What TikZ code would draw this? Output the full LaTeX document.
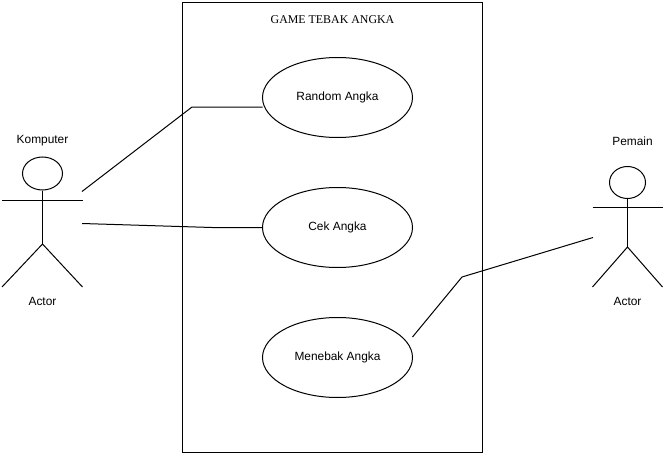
\documentclass[tikz,border=0pt]{standalone}
\usepackage{fontspec}
\setmainfont{Liberation Sans}
\newfontfamily\titlefont{Liberation Serif}
\usetikzlibrary{shapes.geometric}
\tikzset{
  usecase/.style={draw,ellipse,minimum width=150pt,minimum height=80pt,inner sep=0pt,font=\fontsize{11.9}{14}\selectfont},
  lbl/.style={inner sep=0pt,font=\fontsize{11.9}{14}\selectfont},
  titlelbl/.style={inner sep=0pt,font=\titlefont\fontsize{11.9}{14}\selectfont},
  sysbox/.style={draw,minimum width=300pt,minimum height=450pt,inner sep=0pt},
  headL/.style={draw,ellipse,minimum width=40pt,minimum height=33pt,inner sep=0pt},
  headR/.style={draw,ellipse,minimum width=36pt,minimum height=32pt,inner sep=0pt},
  stick/.style={line width=1pt},
  every path/.append style={line width=1pt}
}
\begin{document}
\begin{tikzpicture}[x=1pt,y=-1pt]
\useasboundingbox (0,0) rectangle (665,455);
\node[sysbox] (box) at (332.5,227) {};
\node[titlelbl] (title) at (332.5,19.5) {GAME TEBAK ANGKA};
\node[usecase] (random) at (337.5,97.5) {\raisebox{-0.5pt}{Random Angka}};
\node[usecase] (cek) at (337.5,227.5) {\raisebox{-0.5pt}{Cek Angka}};
\node[usecase] (tebak) at (337.5,357.5) {\raisebox{-0.5pt}{Menebak Angka}};
% left actor
\node[headL] (hl) at (42.5,173.5) {};
\coordinate (hip1) at (42.5,244);
\coordinate (al1) at (2,200.5);
\coordinate (ar1) at (82.5,200.5);
\coordinate (fl1) at (2,287);
\coordinate (fr1) at (82.5,287);
\draw[stick] (hl.south) -- (hip1);
\draw[stick] (al1) -- (ar1);
\draw[stick] (fl1) -- (hip1) -- (fr1);
\node[lbl] (komputer) at (42.5,141) {Komputer};
\node[lbl] (actor1) at (42.5,301) {Actor};
% right actor
\node[headR] (hr) at (627.5,182.5) {};
\coordinate (hip2) at (627.5,247);
\coordinate (al2) at (592.5,207.5);
\coordinate (ar2) at (662.5,207.5);
\coordinate (fl2) at (592.5,287);
\coordinate (fr2) at (662.5,287);
\draw[stick] (hr.south) -- (hip2);
\draw[stick] (al2) -- (ar2);
\draw[stick] (fl2) -- (hip2) -- (fr2);
\node[lbl] (pemain) at (632.5,141) {Pemain};
\node[lbl] (actor2) at (627.5,301) {Actor};
% connectors
\coordinate (k1) at (82,191.5);
\coordinate (k2) at (82,223.5);
\coordinate (p1) at (593,237.5);
\coordinate (rin) at (262.5,107);
\coordinate (tin) at (412.5,337);
\draw[stick] (k1) -- (192,107) -- (rin);
\draw[stick] (k2) -- (212,227.5) -- (cek.west);
\draw[stick] (p1) -- (462,277) -- (tin);
\end{tikzpicture}
\end{document}
